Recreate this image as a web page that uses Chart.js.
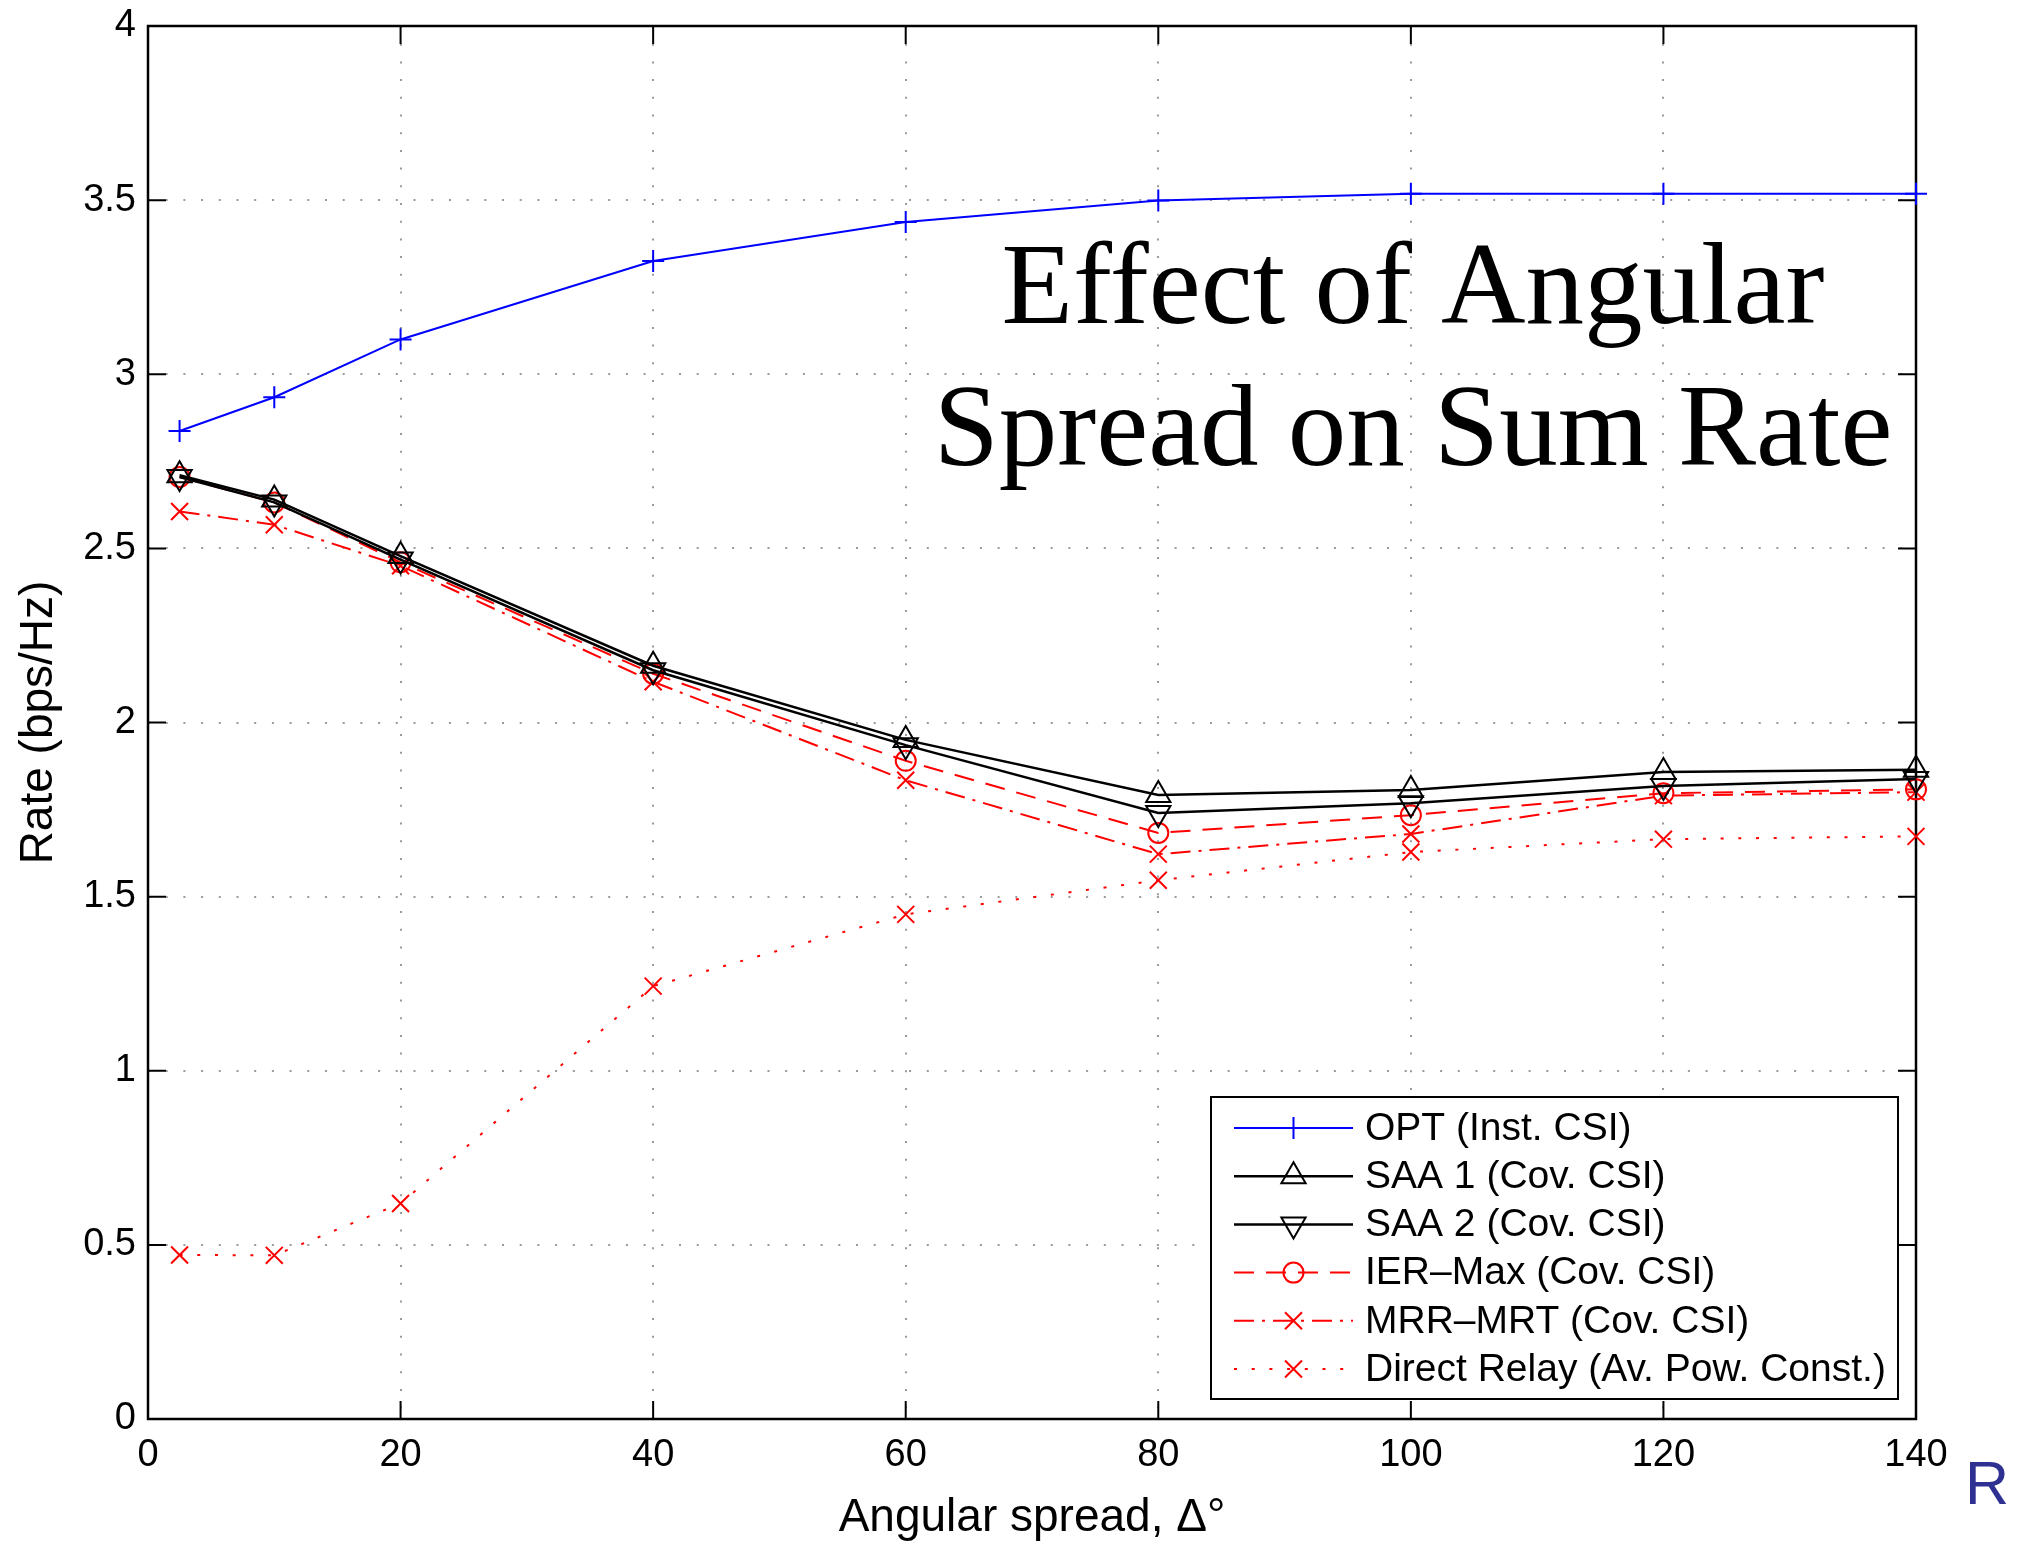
<!DOCTYPE html>
<html>
<head>
<meta charset="utf-8">
<script src="https://cdn.jsdelivr.net/npm/chart.js@4.4.1/dist/chart.umd.min.js"></script>
<style>
  html, body { margin: 0; padding: 0; background: #fff; }
  canvas { display: block; }
</style>
</head>
<body>
<canvas id="rateChart" width="2017" height="1546"></canvas>
<script>
// Angular spread (degrees) where every scheme was evaluated
let spreadValues = [2.5, 10, 20, 40, 60, 80, 100, 120, 140];

// Sum rate (bps/Hz)
let optRate    = [2.837, 2.934, 3.10, 3.325, 3.437, 3.499, 3.518, 3.518, 3.518];
let saa1Rate   = [2.710, 2.640, 2.478, 2.163, 1.950, 1.792, 1.806, 1.858, 1.864];
let saa2Rate   = [2.705, 2.632, 2.468, 2.150, 1.935, 1.740, 1.768, 1.818, 1.838];
let ierRate    = [2.705, 2.632, 2.460, 2.140, 1.890, 1.683, 1.734, 1.797, 1.808];
let mrrRate    = [2.606, 2.568, 2.450, 2.117, 1.834, 1.622, 1.680, 1.790, 1.800];
let directRate = [0.471, 0.470, 0.619, 1.243, 1.449, 1.547, 1.628, 1.665, 1.673];

let seriesNames = [
  'OPT (Inst. CSI)',
  'SAA 1 (Cov. CSI)',
  'SAA 2 (Cov. CSI)',
  'IER\u2013Max (Cov. CSI)',
  'MRR\u2013MRT (Cov. CSI)',
  'Direct Relay (Av. Pow. Const.)'
];

// Tick labels
let xTickValues = [0, 20, 40, 60, 80, 100, 120, 140];
let yTickValues = [0, 0.5, 1, 1.5, 2, 2.5, 3, 3.5, 4];

const sansFont = '"Liberation Sans", Arial, Helvetica, sans-serif';

// Pair the spread values with a rate list
function toPoints(rates) {
  return spreadValues.map(function(s, i) {
    return { x: s, y: rates[i] };
  });
}

function makeSeries(label, rates, color, width, dash, marker, radius, rotation) {
  return {
    label: label,
    data: toPoints(rates),
    borderColor: color,
    borderWidth: width,
    borderDash: dash,
    pointStyle: marker,
    pointRadius: radius,
    pointRotation: rotation || 0,
    pointBorderColor: color,
    pointBackgroundColor: 'rgba(0,0,0,0)',
    pointBorderWidth: 2,
    fill: false,
    tension: 0,
    clip: false
  };
}

let datasets = [
  makeSeries(seriesNames[0], optRate,    '#0000ff', 2,   [],            'cross',    11),
  makeSeries(seriesNames[1], saa1Rate,   '#000000', 2.5, [],            'triangle', 14),
  makeSeries(seriesNames[2], saa2Rate,   '#000000', 2.5, [],            'triangle', 14, 180),
  makeSeries(seriesNames[3], ierRate,    '#ff0000', 2,   [20, 12],      'circle',   10),
  makeSeries(seriesNames[4], mrrRate,    '#ff0000', 2,   [20, 8, 3, 8], 'crossRot', 12),
  makeSeries(seriesNames[5], directRate, '#ff0000', 2,   [3, 14.7],     'crossRot', 12)
];

// Draw one marker, same shapes Chart.js uses for the points
function drawMarker(ctx, ds, x, y) {
  let opts = { pointStyle: ds.pointStyle, rotation: ds.pointRotation, radius: ds.pointRadius, borderWidth: ds.pointBorderWidth };
  ctx.save();
  ctx.setLineDash([]);
  ctx.strokeStyle = ds.pointBorderColor;
  ctx.fillStyle = 'rgba(0,0,0,0)';
  ctx.lineWidth = ds.pointBorderWidth;
  Chart.helpers.drawPoint(ctx, opts, x, y);
  ctx.restore();
}

// MATLAB style box with inward ticks, legend box and overlay text
const matlabDecor = {
  id: 'matlabDecor',
  beforeDatasetsDraw(chart) {
    let ctx = chart.ctx;
    let a = chart.chartArea;
    let xs = chart.scales.x;
    let ys = chart.scales.y;
    let tickLen = 18;
    ctx.save();
    ctx.strokeStyle = '#000';
    ctx.lineWidth = 2.5;
    ctx.strokeRect(a.left, a.top, a.right - a.left, a.bottom - a.top);
    ctx.lineWidth = 2;
    ctx.beginPath();
    xs.ticks.forEach(function(t) {
      let px = xs.getPixelForValue(t.value);
      ctx.moveTo(px, a.bottom); ctx.lineTo(px, a.bottom - tickLen);
      ctx.moveTo(px, a.top);    ctx.lineTo(px, a.top + tickLen);
    });
    ys.ticks.forEach(function(t) {
      let py = ys.getPixelForValue(t.value);
      ctx.moveTo(a.left, py);  ctx.lineTo(a.left + tickLen, py);
      ctx.moveTo(a.right, py); ctx.lineTo(a.right - tickLen, py);
    });
    ctx.stroke();
    ctx.restore();
  },
  afterDraw(chart) {
    let ctx = chart.ctx;
    ctx.save();

    // legend
    let box = { left: 1211, top: 1097, right: 1898, bottom: 1399 };
    ctx.fillStyle = '#fff';
    ctx.fillRect(box.left, box.top, box.right - box.left, box.bottom - box.top);
    ctx.strokeStyle = '#000';
    ctx.lineWidth = 2;
    ctx.strokeRect(box.left, box.top, box.right - box.left, box.bottom - box.top);

    let lineStart = 1234, lineEnd = 1353, textX = 1365;
    chart.data.datasets.forEach(function(ds, i) {
      let rowY = 1128 + i * 48.2;
      ctx.save();
      ctx.strokeStyle = ds.borderColor;
      ctx.lineWidth = ds.borderWidth;
      ctx.setLineDash(ds.borderDash);
      ctx.beginPath();
      ctx.moveTo(lineStart, rowY);
      ctx.lineTo(lineEnd, rowY);
      ctx.stroke();
      ctx.restore();
      drawMarker(ctx, ds, (lineStart + lineEnd) / 2, rowY);

      ctx.fillStyle = '#000';
      ctx.font = '39px ' + sansFont;
      ctx.textAlign = 'left';
      ctx.textBaseline = 'middle';
      ctx.fillText(ds.label, textX, rowY + 1);
    });

    // overlay caption
    ctx.fillStyle = '#000';
    ctx.font = '117px "Liberation Serif", "Times New Roman", serif';
    ctx.textAlign = 'center';
    ctx.textBaseline = 'alphabetic';
    ctx.fillText('Effect of Angular', 1413, 323);
    ctx.fillText('Spread on Sum Rate', 1413, 465);

    // stray blue letter at bottom right
    ctx.fillStyle = '#2e3192';
    ctx.font = '61px ' + sansFont;
    ctx.textAlign = 'left';
    ctx.fillText('R', 1965, 1504);

    ctx.restore();
  }
};

let ctx = document.getElementById('rateChart');
let rateChart = new Chart(ctx, {
  type: 'line',
  data: { datasets: datasets },
  options: {
    responsive: false,
    devicePixelRatio: 1,
    animation: false,
    layout: { padding: { top: 26, right: 101, bottom: 0, left: 0 } },
    plugins: {
      legend: { display: false },
      tooltip: { enabled: false }
    },
    scales: {
      x: {
        type: 'linear',
        min: 0,
        max: 140,
        afterBuildTicks: function(scale) {
          scale.ticks = xTickValues.map(function(v) { return { value: v }; });
        },
        // fixed box so the plot area lands where the original axes are
        afterFit: function(scale) {
          scale.height = 127;
          scale.paddingLeft = 0;
          scale.paddingRight = 0;
        },
        ticks: {
          color: '#000',
          font: { family: sansFont, size: 38 },
          padding: 14,
          maxRotation: 0,
          autoSkip: false,
          callback: function(v) { return String(v); }
        },
        grid: { color: '#9a9a9a', lineWidth: 2, drawTicks: false },
        border: { display: false, dash: [2, 15.7] },
        title: {
          display: true,
          text: 'Angular spread, \u0394\u00b0',
          color: '#000',
          font: { family: sansFont, size: 46 },
          padding: { top: 0, bottom: 0 }
        }
      },
      y: {
        type: 'linear',
        min: 0,
        max: 4,
        afterBuildTicks: function(scale) {
          scale.ticks = yTickValues.map(function(v) { return { value: v }; });
        },
        afterFit: function(scale) {
          scale.width = 148;
          scale.paddingTop = 0;
          scale.paddingBottom = 0;
        },
        ticks: {
          color: '#000',
          font: { family: sansFont, size: 38 },
          padding: 12,
          autoSkip: false,
          callback: function(v) { return String(v); }
        },
        grid: { color: '#9a9a9a', lineWidth: 2, drawTicks: false },
        border: { display: false, dash: [2, 15.7] },
        title: {
          display: true,
          text: 'Rate (bps/Hz)',
          color: '#000',
          font: { family: sansFont, size: 46 },
          padding: { top: 12, bottom: 0 }
        }
      }
    }
  },
  plugins: [matlabDecor]
});
</script>
</body>
</html>
